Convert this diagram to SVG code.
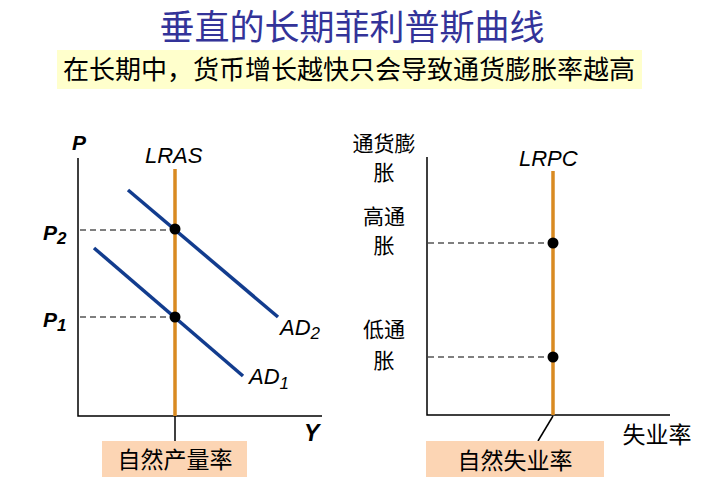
<svg xmlns="http://www.w3.org/2000/svg" width="705" height="497" viewBox="0 0 705 497">
<style>
.cjk{font-family:"Noto Sans CJK SC","Noto Sans",sans-serif;}
.lat{font-family:"Liberation Sans",Arial,sans-serif;font-style:italic;}
.axis{stroke:#000;stroke-width:1.5;fill:none;}
.vert{stroke:#D98A21;stroke-width:3.5;fill:none;}
.ad{stroke:#123C8E;stroke-width:3.5;fill:none;}
.dash{stroke:#000;stroke-width:1.2;stroke-dasharray:6,4;fill:none;}
.dot{fill:#000;}
.box{fill:#FCD5B4;}
</style>
<rect width="705" height="497" fill="#fff"/>
<g id="title">
<text class="cjk" x="352" y="40" font-size="35" fill="#333399" text-anchor="middle">垂直的长期菲利普斯曲线</text>
</g>
<g id="subtitle">
<rect x="57" y="50" width="585" height="39" fill="#FFFFCC"/>
<text class="cjk" x="349" y="79" font-size="26" fill="#000" text-anchor="middle">在长期中，货币增长越快只会导致通货膨胀率越高</text>
</g>
<g id="connectors">
<path class="axis" d="M78,158 V416 H322"/>
<line class="axis" x1="175" y1="416" x2="175" y2="441" stroke-width="1"/>
<line class="dash" x1="80" y1="230" x2="175" y2="230"/>
<line class="dash" x1="80" y1="317" x2="175" y2="317"/>
<path class="axis" d="M427,157 V415 H670"/>
<line class="axis" x1="553" y1="416" x2="538" y2="441" stroke-width="1"/>
<line class="dash" x1="428" y1="243" x2="553" y2="243"/>
<line class="dash" x1="428" y1="357" x2="553" y2="357"/>
</g>
<g id="lras">
<line class="vert" x1="175" y1="169" x2="175" y2="416"/>
<text class="lat" x="145" y="163" font-size="22">LRAS</text>
</g>
<g id="ad2">
<line class="ad" x1="128" y1="190" x2="278" y2="317"/>
<text class="lat" x="280" y="335" font-size="22">AD<tspan font-size="17" dy="4">2</tspan></text>
</g>
<g id="ad1">
<line class="ad" x1="94" y1="248" x2="243" y2="376"/>
<text class="lat" x="249" y="384" font-size="22">AD<tspan font-size="17" dy="5">1</tspan></text>
</g>
<g id="points-left">
<circle class="dot" cx="175" cy="229" r="5.5"/>
<circle class="dot" cx="175" cy="317" r="5.5"/>
</g>
<g id="left-labels">
<text class="lat" x="72" y="150" font-size="21" font-weight="bold">P</text>
<text class="lat" x="43" y="240" font-size="21" font-weight="bold">P<tspan font-size="17" dy="4">2</tspan></text>
<text class="lat" x="43" y="327" font-size="21" font-weight="bold">P<tspan font-size="17" dy="4">1</tspan></text>
<text class="lat" x="304" y="441" font-size="23" font-weight="bold">Y</text>
</g>
<g id="natural-output">
<rect class="box" x="102" y="441" width="145" height="36"/>
<text class="cjk" x="175" y="468" font-size="23" text-anchor="middle">自然产量率</text>
</g>
<g id="lrpc">
<line class="vert" x1="553" y1="171" x2="553" y2="415"/>
<text class="lat" x="519" y="166" font-size="22">LRPC</text>
</g>
<g id="points-right">
<circle class="dot" cx="553" cy="243" r="5.5"/>
<circle class="dot" cx="553" cy="357" r="5.5"/>
</g>
<g id="right-labels" class="cjk" font-size="21" text-anchor="middle">
<text x="384" y="151">通货膨</text>
<text x="384" y="180">胀</text>
<text x="384" y="224">高通</text>
<text x="384" y="253">胀</text>
<text x="384" y="337">低通</text>
<text x="384" y="368">胀</text>
<text x="657" y="443" font-size="23">失业率</text>
</g>
<g id="natural-unemployment">
<rect class="box" x="426" y="441" width="178" height="36"/>
<text class="cjk" x="515" y="469" font-size="23" text-anchor="middle">自然失业率</text>
</g>
</svg>
